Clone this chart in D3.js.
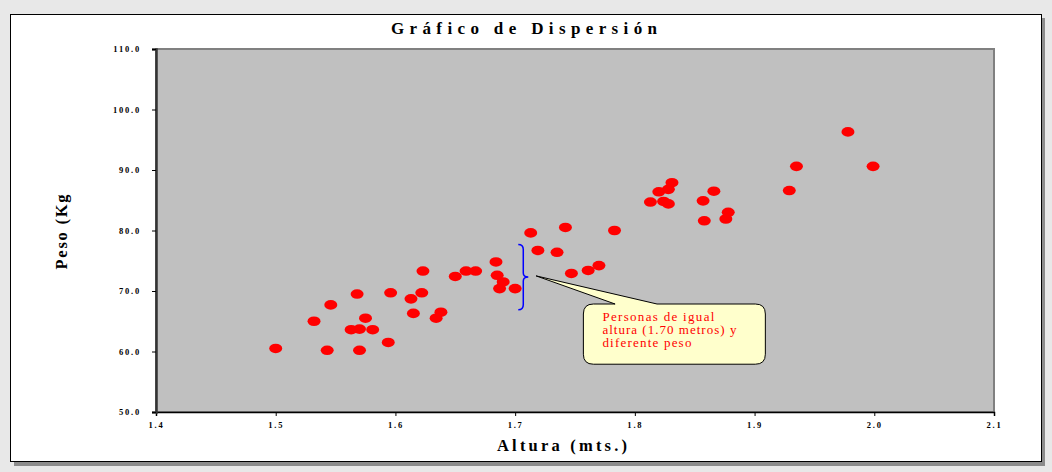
<!DOCTYPE html>
<html>
<head>
<meta charset="utf-8">
<script src="https://cdn.jsdelivr.net/npm/d3@7"></script>
<style>
  body { margin: 0; background: #e8e8e8; }
  svg { display: block; font-family: "Liberation Serif", "DejaVu Serif", serif; }
</style>
</head>
<body>
<div id="chart"></div>
<script>
// estatura (m) de cada persona
const alturas = [1.500, 1.532, 1.546, 1.543, 1.568, 1.575, 1.563, 1.570, 1.581, 1.570,
  1.594, 1.596, 1.613, 1.615, 1.623, 1.622, 1.634, 1.638, 1.650, 1.659,
  1.667, 1.684, 1.685, 1.690, 1.687, 1.700, 1.713, 1.719, 1.735, 1.742,
  1.747, 1.761, 1.770, 1.783, 1.813, 1.820, 1.824, 1.828, 1.828, 1.831,
  1.857, 1.858, 1.866, 1.876, 1.878, 1.929, 1.935, 1.978, 1.999];

// peso (kg) de cada persona
const pesos = [60.5, 65.0, 67.7, 60.2, 69.5, 65.5, 63.6, 63.7, 63.6, 60.2,
  61.5, 69.7, 68.7, 66.3, 73.3, 69.7, 65.5, 66.5, 72.4, 73.3,
  73.3, 74.8, 72.6, 71.5, 70.4, 70.4, 79.6, 76.7, 76.4, 80.5,
  72.9, 73.4, 74.2, 80.0, 84.7, 86.4, 84.8, 86.8, 84.4, 87.9,
  84.9, 81.6, 86.5, 81.9, 83.0, 86.6, 90.6, 96.3, 90.6];

const xTicks = [1.4, 1.5, 1.6, 1.7, 1.8, 1.9, 2.0, 2.1];
const yTicks = [50, 60, 70, 80, 90, 100, 110];

const notaLineas = ['Personas de igual', 'altura (1.70 metros) y', 'diferente peso'];

const width = 1052, height = 472;
const margin = { top: 49, right: 58, bottom: 60, left: 156 };

const svg = d3.select('#chart').append('svg')
  .attr('width', width)
  .attr('height', height);

// sombra y marco blanco
svg.append('rect').attr('x', 14).attr('y', 18).attr('width', 1031).attr('height', 448).attr('fill', '#8c8c8c');
svg.append('rect').attr('x', 10.5).attr('y', 14.5).attr('width', 1031).attr('height', 447)
  .attr('fill', '#fff').attr('stroke', '#000').attr('stroke-width', 1);

const x = d3.scaleLinear().domain([1.4, 2.1]).range([margin.left, width - margin.right]);
const y = d3.scaleLinear().domain([50, 110]).range([height - margin.bottom, margin.top]);

// area de trazado
svg.append('rect')
  .attr('x', x(1.4)).attr('y', y(110))
  .attr('width', x(2.1) - x(1.4)).attr('height', y(50) - y(110))
  .attr('fill', '#c0c0c0')
  .attr('stroke', '#808080').attr('stroke-width', 2);

const xAxis = svg.append('g')
  .attr('transform', 'translate(0,' + y(50) + ')')
  .call(d3.axisBottom(x).tickValues(xTicks).tickSize(4).tickFormat(d3.format('.1f')));

const yAxis = svg.append('g')
  .attr('transform', 'translate(' + x(1.4) + ',0)')
  .call(d3.axisLeft(y).tickValues(yTicks).tickSize(4).tickFormat(d3.format('.1f')));

[xAxis, yAxis].forEach(function(g) {
  g.select('.domain').attr('stroke', '#000').attr('stroke-width', 1.5);
  g.selectAll('.tick line').attr('stroke', '#000');
  g.selectAll('.tick text')
    .attr('font-family', '"Liberation Serif", serif')
    .attr('font-size', 8.5)
    .attr('font-weight', 'bold')
    .attr('letter-spacing', 1.8)
    .attr('fill', '#000');
});
xAxis.selectAll('.tick text').attr('dy', '1.1em');
yAxis.selectAll('.tick text').attr('x', -15);
yAxis.select('.domain').attr('stroke', '#333').attr('stroke-width', 2.5);

// puntos
const datos = alturas.map(function(a, i) { return { altura: a, peso: pesos[i] }; });
svg.append('g').selectAll('ellipse')
  .data(datos)
  .enter().append('ellipse')
    .attr('cx', function(d) { return x(d.altura); })
    .attr('cy', function(d) { return y(d.peso); })
    .attr('rx', 6.5)
    .attr('ry', 4.8)
    .attr('fill', '#ff0000');

// llave azul
const bx = x(1.7068), bt = y(77.7), bb = y(66.9), bm = y(72.3);
svg.append('path')
  .attr('d', 'M' + (bx - 5) + ',' + bt + ' Q' + bx + ',' + bt + ' ' + bx + ',' + (bt + 5) +
    ' L' + bx + ',' + (bm - 4) + ' Q' + bx + ',' + bm + ' ' + (bx + 5) + ',' + bm +
    ' Q' + bx + ',' + bm + ' ' + bx + ',' + (bm + 4) +
    ' L' + bx + ',' + (bb - 5) + ' Q' + bx + ',' + bb + ' ' + (bx - 5) + ',' + bb)
  .attr('fill', 'none').attr('stroke', '#0000ff').attr('stroke-width', 1.5);

// globo de texto
const l = x(1.757), r = x(1.909), t = y(67.85), b = y(57.9), rad = 10;
const tipX = x(1.7175), tipY = y(72.5), p1 = x(1.7835), p2 = x(1.8185);
svg.append('path')
  .attr('d', 'M' + (l + rad) + ',' + t + ' L' + p1 + ',' + t + ' L' + tipX + ',' + tipY + ' L' + p2 + ',' + t +
    ' L' + (r - rad) + ',' + t + ' Q' + r + ',' + t + ' ' + r + ',' + (t + rad) +
    ' L' + r + ',' + (b - rad) + ' Q' + r + ',' + b + ' ' + (r - rad) + ',' + b +
    ' L' + (l + rad) + ',' + b + ' Q' + l + ',' + b + ' ' + l + ',' + (b - rad) +
    ' L' + l + ',' + (t + rad) + ' Q' + l + ',' + t + ' ' + (l + rad) + ',' + t + ' Z')
  .attr('fill', '#ffffcc').attr('stroke', '#000').attr('stroke-width', 1);

const notaAnchos = [112, 134, 89];
svg.append('g').selectAll('text')
  .data(notaLineas)
  .enter().append('text')
    .attr('x', l + 19)
    .attr('y', function(d, i) { return t + 17 + i * 13; })
    .attr('font-size', 13)
    .attr('fill', '#ff0000')
    .attr('textLength', function(d, i) { return notaAnchos[i]; })
    .attr('lengthAdjust', 'spacing')
    .text(function(d) { return d; });

// titulos
svg.append('text')
  .attr('x', 524).attr('y', 34)
  .attr('text-anchor', 'middle')
  .attr('font-size', 17).attr('font-weight', 'bold')
  .attr('textLength', 266).attr('lengthAdjust', 'spacing')
  .text('Gráfico de Dispersión');

svg.append('text')
  .attr('x', (x(1.4) + x(2.1)) / 2 - 13).attr('y', 451)
  .attr('text-anchor', 'middle')
  .attr('font-size', 16.5).attr('font-weight', 'bold')
  .attr('textLength', 130).attr('lengthAdjust', 'spacing')
  .text('Altura (mts.)');

svg.append('text')
  .attr('transform', 'translate(67,232) rotate(-90)')
  .attr('text-anchor', 'middle')
  .attr('font-size', 16.5).attr('font-weight', 'bold')
  .attr('textLength', 75).attr('lengthAdjust', 'spacing')
  .text('Peso (Kg');
</script>
</body>
</html>
